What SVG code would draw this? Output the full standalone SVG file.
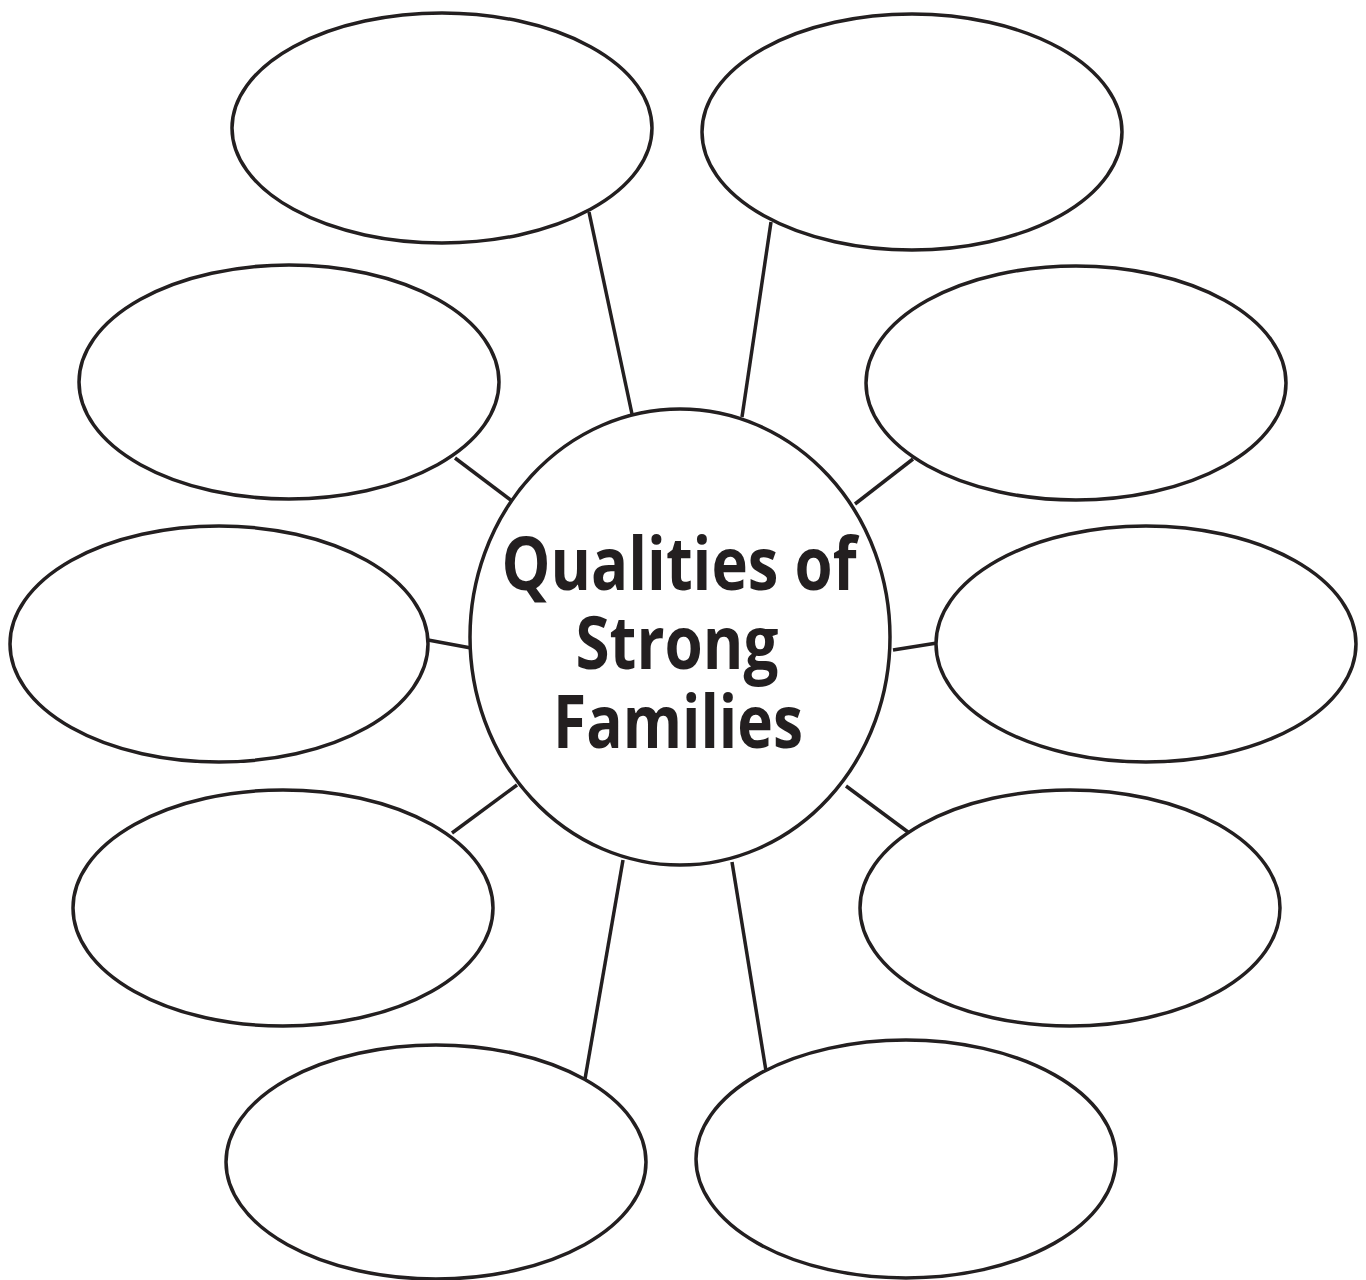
<svg xmlns="http://www.w3.org/2000/svg" width="1366" height="1280" viewBox="0 0 1366 1280">
<style>
.n{fill:#fff;stroke:#231f20;stroke-width:3.5}
.c line{stroke:#231f20;stroke-width:3.5}
.t{font-family:"Open Sans","Liberation Sans",sans-serif;font-weight:bold;font-size:73px;fill:#231f20;text-anchor:middle}
</style>
<rect width="1366" height="1280" fill="#fff"/>
<g id="connectors" class="c">
<line x1="589" y1="212" x2="632" y2="414"/>
<line x1="771" y1="222" x2="742" y2="417"/>
<line x1="455" y1="458" x2="512" y2="501"/>
<line x1="913" y1="459" x2="855" y2="504"/>
<line x1="428" y1="640" x2="471" y2="648"/>
<line x1="893" y1="650" x2="937" y2="643"/>
<line x1="452" y1="833" x2="517" y2="785"/>
<line x1="846" y1="786" x2="908" y2="832"/>
<line x1="623" y1="860" x2="585" y2="1079"/>
<line x1="732" y1="862" x2="766" y2="1071"/>
</g>
<g id="center"><ellipse class="n" cx="680" cy="637" rx="210" ry="228"/>
<text class="t" x="679" y="590" textLength="355" lengthAdjust="spacingAndGlyphs">Qualities of</text>
<text class="t" x="677" y="669" textLength="203" lengthAdjust="spacingAndGlyphs">Strong</text>
<text class="t" x="678" y="748" textLength="250" lengthAdjust="spacingAndGlyphs">Families</text>
</g>
<g id="n1"><ellipse class="n" cx="442" cy="128" rx="210" ry="115"/></g>
<g id="n2"><ellipse class="n" cx="912" cy="132" rx="210" ry="118"/></g>
<g id="n3"><ellipse class="n" cx="289" cy="382" rx="210" ry="117"/></g>
<g id="n4"><ellipse class="n" cx="1076" cy="383" rx="210" ry="117"/></g>
<g id="n5"><ellipse class="n" cx="219" cy="644" rx="209" ry="118"/></g>
<g id="n6"><ellipse class="n" cx="1146" cy="644" rx="210" ry="118"/></g>
<g id="n7"><ellipse class="n" cx="283" cy="908" rx="210" ry="118"/></g>
<g id="n8"><ellipse class="n" cx="1070" cy="908" rx="210" ry="118"/></g>
<g id="n9"><ellipse class="n" cx="436" cy="1162" rx="210" ry="117"/></g>
<g id="n10"><ellipse class="n" cx="906" cy="1159" rx="210" ry="119"/></g>
</svg>
